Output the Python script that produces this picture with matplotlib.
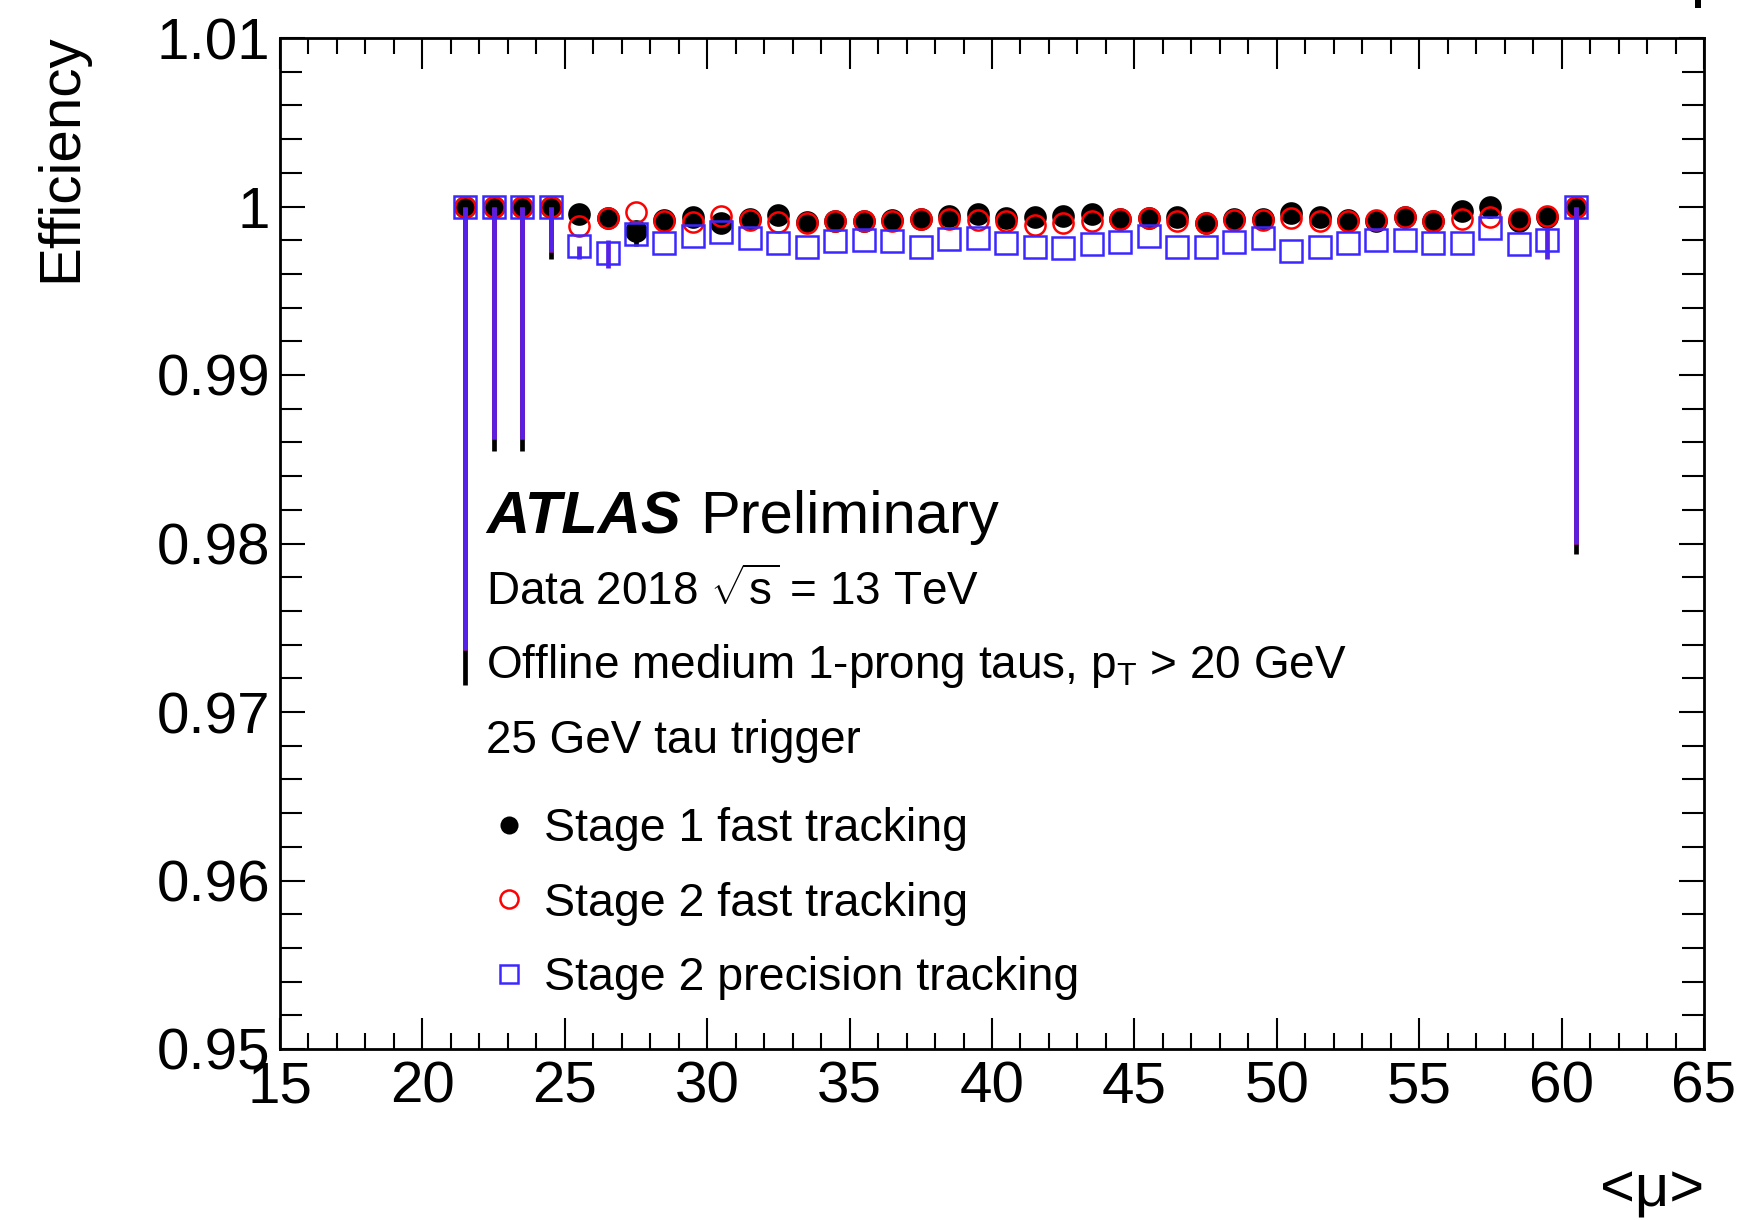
import matplotlib
matplotlib.use("Agg")
import matplotlib.pyplot as plt
from matplotlib.ticker import MultipleLocator, FormatStrFormatter
from matplotlib.lines import Line2D
from matplotlib.patches import Rectangle

plt.rcParams['font.family'] = ['Liberation Sans', 'DejaVu Sans']
plt.rcParams['mathtext.fontset'] = 'custom'
plt.rcParams['mathtext.rm'] = 'Liberation Sans'
plt.rcParams['mathtext.it'] = 'Liberation Sans:italic'
plt.rcParams['mathtext.bf'] = 'Liberation Sans:bold'

# ---------------- data ----------------
mu = [21.5, 22.5, 23.5, 24.5, 25.5, 26.5, 27.5, 28.5, 29.5, 30.5,
      31.5, 32.5, 33.5, 34.5, 35.5, 36.5, 37.5, 38.5, 39.5, 40.5,
      41.5, 42.5, 43.5, 44.5, 45.5, 46.5, 47.5, 48.5, 49.5, 50.5,
      51.5, 52.5, 53.5, 54.5, 55.5, 56.5, 57.5, 58.5, 59.5, 60.5]

stage1_fast = [1.0, 1.0, 1.0, 1.0, 0.99954, 0.99931, 0.99855, 0.99920, 0.99940, 0.99900,
               0.99925, 0.99950, 0.99910, 0.99915, 0.99915, 0.99921, 0.99925, 0.99944, 0.99954, 0.99931,
               0.99940, 0.99946, 0.99954, 0.99925, 0.99931, 0.99940, 0.99901, 0.99925, 0.99925, 0.99960,
               0.99940, 0.99920, 0.99911, 0.99940, 0.99911, 0.99974, 0.99998, 0.99915, 0.99940, 1.0]
stage1_err_lo = [0.0284, 0.0145, 0.0145, 0.0031, 0.0, 0.0, 0.0009, 0.0, 0.0, 0.0,
                 0.0, 0.0, 0.0, 0.0, 0.0, 0.0, 0.0, 0.0, 0.0, 0.0,
                 0.0, 0.0, 0.0, 0.0, 0.0, 0.0, 0.0, 0.0, 0.0, 0.0,
                 0.0, 0.0, 0.0, 0.0, 0.0, 0.0, 0.0, 0.0, 0.0, 0.0206]
stage1_err_hi = [0.0] * 40

stage2_fast = [1.0, 1.0, 1.0, 1.0, 0.99885, 0.99931, 0.99970, 0.99915, 0.99910, 0.99944,
               0.99920, 0.99910, 0.99901, 0.99915, 0.99915, 0.99911, 0.99925, 0.99925, 0.99920, 0.99911,
               0.99891, 0.99901, 0.99915, 0.99925, 0.99931, 0.99911, 0.99901, 0.99920, 0.99920, 0.99931,
               0.99911, 0.99915, 0.99920, 0.99940, 0.99915, 0.99927, 0.99940, 0.99925, 0.99944, 1.0]
stage2_fast_err_lo = [0.0263, 0.0138, 0.0138, 0.0027, 0.0, 0.0, 0.0, 0.0, 0.0, 0.0,
                      0.0, 0.0, 0.0, 0.0, 0.0, 0.0, 0.0, 0.0, 0.0, 0.0,
                      0.0, 0.0, 0.0, 0.0, 0.0, 0.0, 0.0, 0.0, 0.0, 0.0,
                      0.0, 0.0, 0.0, 0.0, 0.0, 0.0, 0.0, 0.0, 0.0, 0.0200]
stage2_fast_err_hi = [0.0] * 40

stage2_prec = [1.0, 1.0, 1.0, 1.0, 0.99768, 0.99726, 0.99835, 0.99782, 0.99825, 0.99851,
               0.99812, 0.99782, 0.99762, 0.99796, 0.99800, 0.99796, 0.99762, 0.99806, 0.99812, 0.99782,
               0.99762, 0.99756, 0.99776, 0.99788, 0.99825, 0.99762, 0.99762, 0.99788, 0.99812, 0.99736,
               0.99762, 0.99782, 0.99800, 0.99800, 0.99782, 0.99782, 0.99875, 0.99776, 0.99800, 1.0]
stage2_prec_err_lo = [0.0263, 0.0138, 0.0138, 0.0027, 0.0008, 0.00093, 0.0, 0.0, 0.0, 0.0,
                      0.0, 0.0, 0.0, 0.0, 0.0, 0.0, 0.0, 0.0, 0.0, 0.0,
                      0.0, 0.0, 0.0, 0.0, 0.0, 0.0, 0.0, 0.0, 0.0, 0.0,
                      0.0, 0.0, 0.0, 0.0, 0.0, 0.0, 0.0, 0.0, 0.00113, 0.0200]
stage2_prec_err_hi = [0.0, 0.0, 0.0, 0.0, 0.0, 0.00075, 0.0, 0.0, 0.0, 0.0,
                      0.0, 0.0, 0.0, 0.0, 0.0, 0.0, 0.0, 0.0, 0.0, 0.0,
                      0.0, 0.0, 0.0, 0.0, 0.0, 0.0, 0.0, 0.0, 0.0, 0.0,
                      0.0, 0.0, 0.0, 0.0, 0.0, 0.0, 0.0, 0.0, 0.00073, 0.0]

labels = ["Stage 1 fast tracking", "Stage 2 fast tracking", "Stage 2 precision tracking"]
xticks = [15, 20, 25, 30, 35, 40, 45, 50, 55, 60, 65]
yticks = [0.95, 0.96, 0.97, 0.98, 0.99, 1.0, 1.01]

# ---------------- figure ----------------
W, H = 1740, 1220
fig = plt.figure(figsize=(W / 100, H / 100), dpi=100)
ax = fig.add_axes([280 / W, 1 - 1049 / H, (1704 - 280) / W, (1049 - 38) / H])

RED = '#ff0000'
BLUE = '#3c28ff'
BLUE_BAR = '#5520e8'
elw = 3.4

ax.errorbar(mu, stage1_fast, yerr=[stage1_err_lo, stage1_err_hi], fmt='o', color='black',
            ms=14.5, mew=1.8, mec='black', ecolor='black', elinewidth=elw, capsize=0, zorder=3)
ax.errorbar(mu, stage2_fast, yerr=[stage2_fast_err_lo, stage2_fast_err_hi], fmt='o', color=RED,
            ms=14.5, mfc='none', mec=RED, mew=1.8, ecolor=RED, elinewidth=elw, capsize=0, zorder=4)
ax.errorbar(mu, stage2_prec, yerr=[stage2_prec_err_lo, stage2_prec_err_hi], fmt='s', color=BLUE,
            ms=15.5, mfc='none', mec=BLUE, mew=1.8, ecolor=BLUE_BAR, elinewidth=elw, capsize=0, zorder=5)

ax.set_xlim(15, 65)
ax.set_ylim(0.95, 1.01)
ax.set_xticks(xticks)
ax.set_yticks(yticks)
ax.xaxis.set_minor_locator(MultipleLocator(1))
ax.yaxis.set_minor_locator(MultipleLocator(0.002))
ax.xaxis.set_major_formatter(FormatStrFormatter('%g'))
ax.yaxis.set_major_formatter(FormatStrFormatter('%g'))

ax.tick_params(axis='both', which='both', direction='in', top=True, right=True, width=1.5, color='black')
ax.tick_params(axis='x', which='major', length=22, labelsize=42, pad=8)
ax.tick_params(axis='x', which='minor', length=11.5)
ax.tick_params(axis='y', which='major', length=18, labelsize=42, pad=7)
ax.tick_params(axis='y', which='minor', length=15.5)
for s in ax.spines.values():
    s.set_linewidth(2.0)

ax.set_ylabel('Efficiency', fontsize=42, loc='top')
ax.yaxis.set_label_coords(-0.135, 1.005)
ax.set_xlabel('<μ>', fontsize=43, loc='right')
ax.xaxis.set_label_coords(1.0, -0.113)

# ---------------- annotations ----------------
def fx(px):
    return px / W

def fy(py):
    return 1 - py / H

fig.text(fx(486), fy(533), 'ATLAS', fontsize=43, fontweight='bold', fontstyle='italic', va='baseline')
fig.text(fx(700), fy(533), 'Preliminary', fontsize=43, va='baseline')
fig.text(fx(486), fy(605), r'Data 2018 $\sqrt{\mathrm{s}}$ = 13 TeV', fontsize=33, va='baseline')
fig.text(fx(486), fy(678), r'Offline medium 1-prong taus, $\mathrm{p}_{\mathrm{T}}$ > 20 GeV', fontsize=33, va='baseline')
fig.text(fx(486), fy(753), '25 GeV tau trigger', fontsize=33, va='baseline')

handles = [
    Line2D([], [], ls='none', marker='o', ms=13, color='black', mew=0),
    Line2D([], [], ls='none', marker='o', ms=13, mfc='none', mec=RED, mew=1.8),
    Line2D([], [], ls='none', marker='s', ms=13, mfc='none', mec=BLUE, mew=1.8),
]
leg = ax.legend(handles, labels, loc='upper left', bbox_to_anchor=(fx(495), fy(807)),
                bbox_transform=fig.transFigure, frameon=False, fontsize=33.5,
                handlelength=0.6, handletextpad=0.45, labelspacing=0.66, borderpad=0, borderaxespad=0)

# small mark at the top-right edge of the canvas
fig.patches.append(Rectangle((fx(1695), fy(8)), 6 / W, 8 / H, transform=fig.transFigure,
                             facecolor='black', edgecolor='none'))

fig.savefig('out.png', dpi=100)
